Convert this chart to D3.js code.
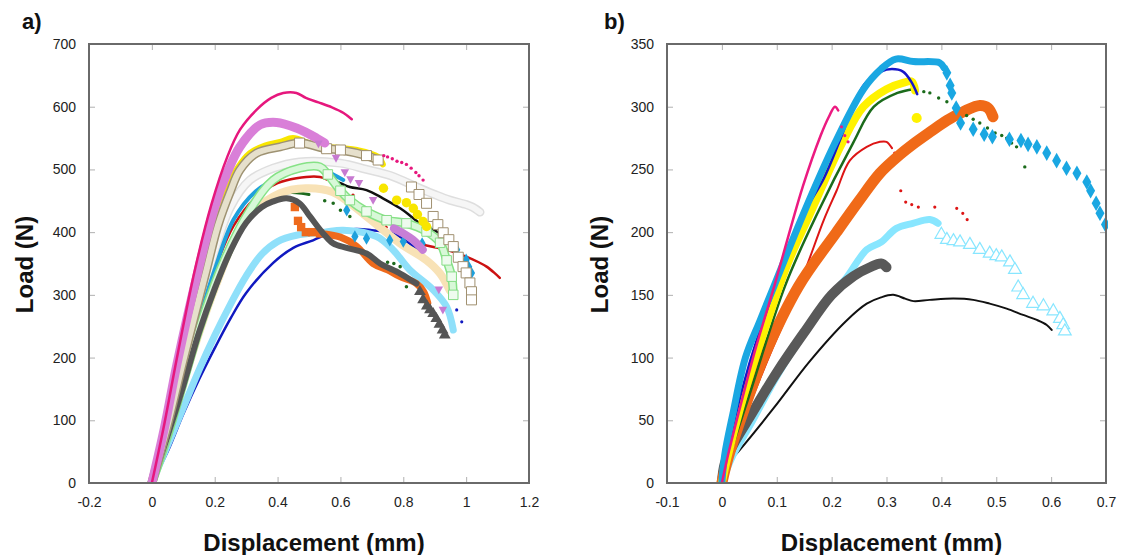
<!DOCTYPE html>
<html><head><meta charset="utf-8">
<script src="https://cdn.jsdelivr.net/npm/d3@7"></script>
<style>
html,body{margin:0;padding:0;background:#fff;}
svg{display:block;font-family:"Liberation Sans",Arial,sans-serif;}
</style></head>
<body>
<script>
// ---------- Panel a data ----------
const xTicksA = [-0.2, 0, 0.2, 0.4, 0.6, 0.8, 1, 1.2];
const xTickLabelsA = ["-0.2", "0", "0.2", "0.4", "0.6", "0.8", "1", "1.2"];
const yTicksA = [0, 100, 200, 300, 400, 500, 600, 700];

const aPinkLine = [[0,0],[0.04,95],[0.08,200],[0.137,340],[0.19,445],[0.24,520],[0.28,563],[0.333,595],[0.38,614],[0.418,622],[0.46,622],[0.49,614],[0.53,607],[0.573,599],[0.61,590],[0.636,580]];
const aPinkDots = [[0.738,522],[0.75,520],[0.765,517],[0.78,513],[0.795,511],[0.81,508],[0.825,502],[0.84,495],[0.85,490],[0.863,483]];
const aOrchidLine = [[0,0],[0.04,88],[0.08,190],[0.148,340],[0.2,440],[0.24,495],[0.28,536],[0.344,571],[0.397,575],[0.46,566],[0.524,550],[0.55,542]];
const aOrchidTail = [[0.77,406],[0.8,398],[0.83,388],[0.862,372]];
const aOrchidTri = [[0.53,541],[0.586,518],[0.614,495],[0.632,484],[0.659,478],[0.704,451],[0.913,308],[0.926,276]];
const aYellowLine = [[0,0],[0.05,92],[0.1,192],[0.17,332],[0.227,456],[0.27,500],[0.312,526],[0.36,538],[0.408,544],[0.449,550],[0.5,542],[0.54,537],[0.6,534],[0.653,531],[0.72,520],[0.735,508]];
const aYellowDots = [[0.737,470],[0.779,451],[0.81,447],[0.832,438],[0.845,428],[0.863,417],[0.874,409]];
const aTanLine = [[0,0],[0.05,92],[0.1,195],[0.174,340],[0.21,410],[0.25,465],[0.28,499],[0.333,526],[0.408,536],[0.47,542],[0.556,533],[0.6,531],[0.683,522],[0.72,515]];
const aTanSquares = [[0.826,472],[0.85,460],[0.874,446],[0.895,425],[0.91,412],[0.927,399],[0.945,388],[0.959,377],[0.975,360],[0.99,345],[1.0,335],[1.012,319],[1.017,305],[1.017,292]];
const aGreyLine = [[0,0],[0.05,85],[0.1,180],[0.15,280],[0.2,370],[0.25,440],[0.312,483],[0.386,502],[0.47,512],[0.6,510],[0.683,500],[0.76,490],[0.843,472],[0.9,460],[0.948,451],[1.0,444],[1.02,440],[1.044,432]];
const aSkyLine = [[0,0],[0.05,80],[0.1,170],[0.15,260],[0.2,340],[0.26,420],[0.33,465],[0.408,488],[0.47,499],[0.52,503],[0.56,496],[0.609,483]];
const aSkyDiamonds = [[0.62,435],[0.646,393],[0.683,390],[0.757,387],[0.8,385],[0.86,382],[0.917,379],[0.97,372],[1.0,356],[1.008,345],[1.017,335]];
const aRedLine = [[0,0],[0.05,80],[0.1,170],[0.15,260],[0.2,340],[0.26,410],[0.33,455],[0.4,478],[0.46,486],[0.535,488],[0.556,484]];
const aRedTail = [[0.863,380],[0.9,376],[0.938,372],[1.0,361],[1.04,352],[1.065,345],[1.09,335],[1.107,327]];
const aRedDots = [[0.64,459],[0.726,414],[0.745,408]];
const aBlackLine = [[0.56,486],[0.6,478],[0.63,472],[0.683,467],[0.735,454],[0.79,438],[0.82,427],[0.85,415],[0.906,401],[0.948,387]];
const aGreenLine = [[0,0],[0.05,75],[0.1,160],[0.15,245],[0.227,351],[0.312,435],[0.386,483],[0.47,502],[0.535,504],[0.56,492],[0.6,466],[0.63,451],[0.683,433],[0.747,419],[0.81,414],[0.874,401],[0.917,383],[0.938,355],[0.954,329],[0.959,300]];
const aBeigeLine = [[0,0],[0.05,75],[0.1,160],[0.2,310],[0.3,420],[0.408,462],[0.49,470],[0.575,464],[0.683,425],[0.79,382],[0.874,355],[0.917,334],[0.948,307]];
const aDkGreenLine = [[0.38,455],[0.418,462],[0.46,463],[0.5,460]];
const aDkGreenDots = [[0.55,450],[0.577,446],[0.6,435],[0.63,425],[0.75,352],[0.77,350],[0.79,345],[0.81,313]];
const aDkGreyLine = [[0,0],[0.05,75],[0.1,155],[0.15,240],[0.2,310],[0.25,370],[0.3,415],[0.35,440],[0.386,449],[0.429,454],[0.47,446],[0.503,425],[0.545,398],[0.577,382],[0.62,375],[0.683,366],[0.726,350],[0.79,334],[0.842,318]];
const aDkGreyTri = [[0.853,305],[0.863,292],[0.875,282],[0.885,276],[0.895,270],[0.905,262],[0.915,253],[0.925,244],[0.932,236]];
const aOrangeSquares = [[0.455,440],[0.465,418],[0.475,408],[0.49,400],[0.51,400],[0.535,398]];
const aOrangeLine = [[0.535,398],[0.6,392],[0.65,378],[0.704,350],[0.75,340],[0.79,329],[0.842,318],[0.865,305],[0.878,287]];
const aLtCyanLine = [[0,0],[0.05,60],[0.1,120],[0.15,180],[0.2,235],[0.25,285],[0.3,330],[0.35,365],[0.4,385],[0.46,395],[0.55,400],[0.609,403],[0.715,393],[0.767,372],[0.82,340],[0.895,308],[0.938,281],[0.959,244]];
const aBlueLine = [[0,0],[0.05,50],[0.1,110],[0.15,165],[0.2,215],[0.25,262],[0.3,303],[0.386,351],[0.45,375],[0.513,387],[0.577,400],[0.65,405],[0.7,403],[0.767,398],[0.832,377],[0.874,355]];
const aBlueDots = [[0.9,345],[0.92,330],[0.95,300],[0.97,276],[0.986,257]];

// ---------- Panel b data ----------
const xTicksB = [-0.1, 0, 0.1, 0.2, 0.3, 0.4, 0.5, 0.6, 0.7];
const xTickLabelsB = ["-0.1", "0", "0.1", "0.2", "0.3", "0.4", "0.5", "0.6", "0.7"];
const yTicksB = [0, 50, 100, 150, 200, 250, 300, 350];

const bPinkLine = [[0,0],[0.01,20],[0.03,55],[0.06,105],[0.0955,157],[0.12,195],[0.148,237],[0.18,277],[0.195,292],[0.206,300],[0.212,297]];
const bPinkDots = [[0.218,284],[0.224,277],[0.23,272]];
const bBlueLine = [[0,0],[0.02,45],[0.05,95],[0.1,160],[0.15,215],[0.186,243],[0.213,271],[0.239,300],[0.26,318],[0.29,328],[0.31,330],[0.33,328],[0.345,320],[0.356,310]];
const bSkyLine = [[0,0],[0.005,22],[0.02,55],[0.043,100],[0.07,130],[0.095,157],[0.148,214],[0.206,271],[0.258,314],[0.29,330],[0.317,338],[0.349,336],[0.397,335],[0.405,331]];
const bSkyDiamonds = [[0.41,327],[0.416,317],[0.419,311],[0.427,299],[0.435,287],[0.458,282],[0.478,278],[0.493,276],[0.524,274],[0.545,273],[0.558,270],[0.574,268],[0.592,263],[0.61,257],[0.628,251],[0.647,247],[0.665,240],[0.672,233],[0.682,223],[0.689,215],[0.699,206]];
const bYellowLine = [[0,0],[0.01,20],[0.04,70],[0.08,125],[0.12,175],[0.16,214],[0.219,271],[0.258,300],[0.3,314],[0.33,319],[0.346,320],[0.352,313]];
const bYellowDot = [[0.355,291]];
const bDkGreenLine = [[0,0],[0.02,30],[0.05,70],[0.115,157],[0.173,214],[0.239,271],[0.277,300],[0.32,311],[0.349,314]];
const bDkGreenDots = [[0.355,313],[0.368,312],[0.379,311],[0.395,307],[0.41,304],[0.425,300],[0.446,293],[0.458,290],[0.47,287],[0.484,283],[0.498,279],[0.51,277],[0.519,275],[0.528,271],[0.537,268],[0.552,252]];
const bOrangeLine = [[0,0],[0.01,18],[0.04,58],[0.076,100],[0.14,157],[0.209,200],[0.25,225],[0.288,247],[0.325,262],[0.348,270],[0.38,280],[0.41,289],[0.44,296],[0.47,301],[0.485,299],[0.494,292]];
const bRedLine = [[0,0],[0.04,50],[0.09,105],[0.125,140],[0.153,171],[0.186,210],[0.209,233],[0.233,257],[0.264,268],[0.288,272],[0.3,272],[0.31,267]];
const bRedDots = [[0.315,263],[0.326,233],[0.335,224],[0.346,222],[0.358,220],[0.388,220],[0.428,219],[0.439,215],[0.447,210]];
const bLtCyanLine = [[0,0],[0.02,22],[0.05,45],[0.1,85],[0.15,120],[0.2,150],[0.226,163],[0.264,186],[0.29,192],[0.318,203],[0.348,207],[0.379,210],[0.394,207]];
const bLtCyanTri = [[0.4,198],[0.41,194],[0.422,193],[0.434,192],[0.452,190],[0.47,186],[0.488,183],[0.5,181],[0.51,180],[0.525,176],[0.534,170],[0.54,156],[0.549,150],[0.567,143],[0.586,141],[0.604,137],[0.616,131],[0.622,126],[0.625,121]];
const bGreyLine = [[0,0],[0.005,15],[0.02,30],[0.05,52],[0.1,88],[0.15,120],[0.2,150],[0.24,165],[0.27,172],[0.29,175],[0.3,172]];
const bBlackLine = [[0,0],[0.01,15],[0.03,25],[0.095,60],[0.16,97],[0.226,129],[0.264,143],[0.29,148],[0.312,150],[0.334,147],[0.349,145],[0.379,146],[0.422,147],[0.458,146],[0.488,143],[0.519,139],[0.549,134],[0.574,130],[0.592,126],[0.601,122]];

// ---------- drawing ----------
const W = 1121, H = 555;
const svg = d3.select("body").append("svg").attr("width", W).attr("height", H);

function makePanel(o) {
  const x = d3.scaleLinear().domain(o.xDomain).range([o.left, o.right]);
  const y = d3.scaleLinear().domain(o.yDomain).range([o.bottom, o.top]);
  const g = svg.append("g");
  const clipId = "clip" + o.id;
  svg.append("clipPath").attr("id", clipId).append("rect")
    .attr("x", o.left).attr("y", o.top - 2).attr("width", o.right - o.left + 2).attr("height", o.bottom - o.top + 2);

  // inner ticks
  const tickCol = "#b0b0b0";
  const axB = g.append("g").attr("transform", `translate(0,${o.bottom})`)
    .call(d3.axisBottom(x).tickValues(o.xTicks).tickSize(-6).tickPadding(14).tickFormat((d, i) => o.xLabels[i]));
  const axT = g.append("g").attr("transform", `translate(0,${o.top})`)
    .call(d3.axisTop(x).tickValues(o.xTicks).tickSize(-6).tickFormat(""));
  const axL = g.append("g").attr("transform", `translate(${o.left},0)`)
    .call(d3.axisLeft(y).tickValues(o.yTicks).tickSize(-6).tickPadding(13).tickFormat(d3.format("d")));
  const axR = g.append("g").attr("transform", `translate(${o.right},0)`)
    .call(d3.axisRight(y).tickValues(o.yTicks).tickSize(-6).tickFormat(""));
  [axB, axT, axL, axR].forEach(a => {
    a.select(".domain").remove();
    a.selectAll(".tick line").attr("stroke", tickCol).attr("stroke-width", 1);
    a.selectAll(".tick text").attr("fill", "#222").style("font-size", "14px")
      .style("font-family", '"Liberation Sans", Arial, sans-serif');
  });

  const plot = g.append("g").attr("clip-path", `url(#${clipId})`);
  const line = d3.line().x(d => x(d[0])).y(d => y(d[1])).curve(d3.curveCatmullRom.alpha(0.5));

  // frame
  g.append("rect").attr("x", o.left).attr("y", o.top).attr("width", o.right - o.left).attr("height", o.bottom - o.top)
    .attr("fill", "none").attr("stroke", "#6a6a6a").attr("stroke-width", 2);

  // labels
  g.append("text").attr("x", o.labelX).attr("y", 29).text(o.label)
    .style("font-size", "22px").style("font-weight", "bold").attr("fill", "#111");
  g.append("text").attr("transform", `translate(${o.yTitleX},${(o.top + o.bottom) / 2 + 1}) rotate(-90)`)
    .attr("text-anchor", "middle").attr("dy", "0.35em").text("Load (N)")
    .style("font-size", "24px").style("font-weight", "bold").attr("fill", "#111");
  g.append("text").attr("x", (o.left + o.right) / 2 + 5).attr("y", 551).attr("text-anchor", "middle")
    .text("Displacement (mm)").style("font-size", "24px").style("font-weight", "bold").attr("fill", "#111");

  return {
    x, y, plot,
    path(data, color, width, opacity) {
      plot.append("path").datum(data).attr("d", line).attr("fill", "none").attr("stroke", color)
        .attr("stroke-width", width).attr("stroke-linecap", "round").attr("stroke-linejoin", "round")
        .attr("opacity", opacity == null ? 1 : opacity);
    },
    tube(data, outer, inner, width) {
      this.path(data, outer, width);
      this.path(data, inner, width - 3);
    },
    sym(data, type, size, fill, stroke, sw) {
      plot.selectAll(null).data(data).enter().append("path")
        .attr("transform", d => `translate(${x(d[0])},${y(d[1])})`)
        .attr("d", d3.symbol().type(type).size(size))
        .attr("fill", fill).attr("stroke", stroke || "none").attr("stroke-width", sw || 0);
    }
  };
}

// Panel a
const A = makePanel({ id: "a", left: 89, right: 529, top: 44, bottom: 483, xDomain: [-0.2, 1.2], yDomain: [0, 700],
  xTicks: xTicksA, xLabels: xTickLabelsA, yTicks: yTicksA, label: "a)", labelX: 22, yTitleX: 25 });

const triDown = { draw(ctx, size) { const s = Math.sqrt(size) * 1.1; ctx.moveTo(-s/2, -s/2.6); ctx.lineTo(s/2, -s/2.6); ctx.lineTo(0, s/1.9); ctx.closePath(); } };

A.path(aBlueLine, "#1019c0", 2.5);
A.sym(aBlueDots, d3.symbolCircle, 8, "#1019c0");
A.path(aLtCyanLine, "#8fe0fa", 7);
A.path(aOrangeLine, "#ee6a1c", 7);
A.sym(aOrangeSquares, d3.symbolSquare, 70, "#ee6a1c");
A.path(aDkGreenLine, "#1d6a1d", 3);
A.sym(aDkGreenDots, d3.symbolCircle, 10, "#1d6a1d");
A.path(aRedLine, "#cc1111", 2.5);
A.path(aRedTail, "#cc1111", 2.5);
A.sym(aRedDots, d3.symbolCircle, 9, "#cc1111");
A.path(aBeigeLine, "#f8e2b6", 8);
A.tube(aGreyLine, "#dedede", "#f6f6f6", 9);
A.path(aBlackLine, "#111", 2.5);
A.path(aSkyLine, "#1ea0dc", 4);
A.sym(aSkyDiamonds, d3.symbolDiamond, 45, "#1ea0dc");
A.tube(aGreenLine, "#86e286", "#d8f8d8", 9);
A.sym(aGreenLine.filter(d => d[0] > 0.55), d3.symbolSquare, 90, "#eefbee", "#86dc86", 1);
A.path(aDkGreyLine, "#555", 6);
A.sym(aDkGreyTri, d3.symbolTriangle, 60, "#555");
A.path(aYellowLine, "#f8e600", 6);
A.sym(aYellowDots, d3.symbolCircle, 70, "#f8e600");
A.tube(aTanLine, "#9e9272", "#e6e0cc", 9);
A.sym(aTanSquares, d3.symbolSquare, 100, "#fff", "#a09070", 1);
A.sym(aTanLine.filter(d => d[0] > 0.45), d3.symbolSquare, 100, "#fff", "#a09070", 1);
A.path(aOrchidLine, "#d97fd8", 9);
A.path(aOrchidTail, "#c77fd6", 8);
A.sym(aOrchidTri, triDown, 60, "#c77ad1");
A.path(aPinkLine, "#e6177d", 2.5);
A.sym(aPinkDots, d3.symbolCircle, 9, "#e6177d");

// Panel b
const B = makePanel({ id: "b", left: 667, right: 1106, top: 44, bottom: 483, xDomain: [-0.1, 0.7], yDomain: [0, 350],
  xTicks: xTicksB, xLabels: xTickLabelsB, yTicks: yTicksB, label: "b)", labelX: 604, yTitleX: 600 });

B.path(bBlackLine, "#111", 2);
B.path(bLtCyanLine, "#88e6ff", 7);
B.sym(bLtCyanTri, d3.symbolTriangle, 70, "#fff", "#88e6ff", 1.2);
B.path(bGreyLine, "#595959", 10);
B.path(bRedLine, "#dd1515", 2);
B.sym(bRedDots, d3.symbolCircle, 8, "#dd1515");
B.path(bOrangeLine, "#f06a18", 11);
B.path(bDkGreenLine, "#1b6b1b", 2.5);
B.sym(bDkGreenDots, d3.symbolCircle, 9, "#1b6b1b");
B.path(bYellowLine, "#fff200", 8);
B.sym(bYellowDot, d3.symbolCircle, 80, "#fff200");
B.path(bBlueLine, "#1616c8", 2.5);
B.path(bSkyLine, "#1aa7e2", 7);
B.sym(bSkyDiamonds, d3.symbolDiamond, 70, "#1aa7e2");
B.path(bPinkLine, "#ec1a80", 2.5);
B.sym(bPinkDots, d3.symbolCircle, 8, "#ec1a80");
</script>
</body></html>
